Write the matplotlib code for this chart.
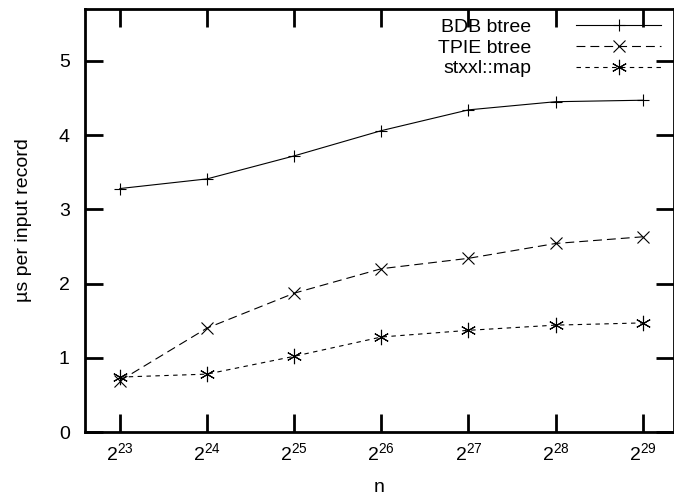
import matplotlib
matplotlib.use('Agg')
import matplotlib.pyplot as plt

plt.rcParams['font.family'] = ['Liberation Sans', 'DejaVu Sans']
plt.rcParams['mathtext.fontset'] = 'custom'
plt.rcParams['mathtext.rm'] = 'Liberation Sans'
plt.rcParams['mathtext.default'] = 'regular'

# data (x = log2 n)
exps = [23, 24, 25, 26, 27, 28, 29]
bdb = [3.28, 3.41, 3.72, 4.06, 4.34, 4.45, 4.47]
tpie = [0.69, 1.40, 1.87, 2.20, 2.34, 2.54, 2.63]
stxxl = [0.74, 0.78, 1.02, 1.28, 1.37, 1.44, 1.47]

fig = plt.figure(figsize=(6.74, 4.96), dpi=100)
ax = fig.add_axes([0.1261, 0.129, 0.874, 0.853])

ax.plot(exps, bdb, color='black', linestyle='-', linewidth=0.8,
        marker='+', markersize=9, markeredgewidth=0.8, label='BDB btree')
ax.plot(exps, tpie, color='black', linestyle=(0, (8, 4.5)), linewidth=0.8,
        marker='x', markersize=9, markeredgewidth=0.8, label='TPIE btree')
ax.plot(exps, stxxl, color='black', linestyle=(0, (4, 4)), linewidth=0.8,
        marker=(6, 2, 0), markersize=11, markeredgewidth=0.8, label='stxxl::map')

ax.set_xlim(22.6, 29.36)
ax.set_ylim(0, 5.7)
ax.set_xticks(exps)
ax.set_xticklabels(['$2^{%d}$' % e for e in exps])
ax.set_yticks([0, 1, 2, 3, 4, 5])

ax.tick_params(direction='in', length=13, width=2, top=True, right=True,
               labelsize=14)
ax.tick_params(axis='y', pad=11)
ax.tick_params(axis='x', pad=7)
for s in ax.spines.values():
    s.set_linewidth(2)

ax.set_xlabel('n', fontsize=14, labelpad=11)
ax.set_ylabel('µs per input record', fontsize=14, labelpad=19)

ax.legend(loc='upper right', bbox_to_anchor=(0.995, 1.0), frameon=False,
          markerfirst=False, numpoints=1, fontsize=14, handlelength=4.4,
          handletextpad=2.3, labelspacing=0.15, borderaxespad=0.1)

fig.savefig('out.png', dpi=100)
